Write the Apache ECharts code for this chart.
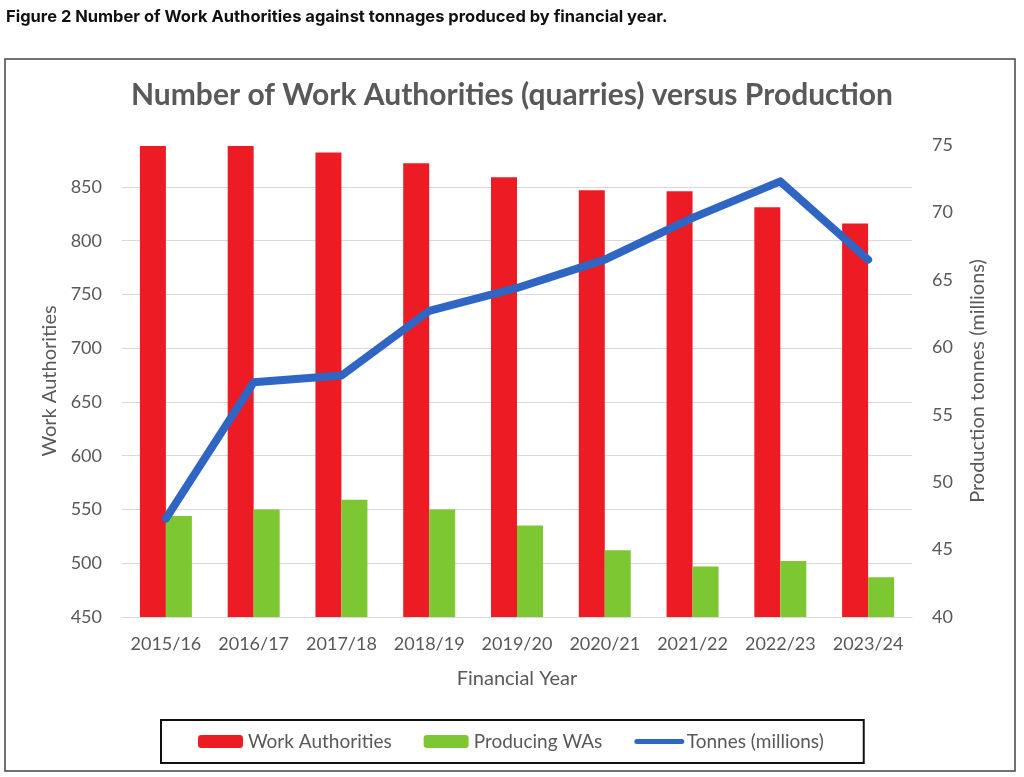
<!DOCTYPE html>
<html>
<head>
<meta charset="utf-8">
<script src="https://cdn.jsdelivr.net/npm/echarts@6/dist/echarts.min.js"></script>
<style>
html,body{margin:0;padding:0;background:#fff;}
#chart{width:1024px;height:777px;}
</style>
</head>
<body>
<div id="chart"></div>
<script>
const categories = ['2015/16','2016/17','2017/18','2018/19','2019/20','2020/21','2021/22','2022/23','2023/24'];
const workAuthorities = [888, 888, 882, 872, 859, 847, 846, 831, 816];
const producingWAs = [544, 550, 559, 550, 535, 512, 497, 502, 487];
const tonnes = [47.3, 57.4, 57.9, 62.7, 64.4, 66.5, 69.6, 72.3, 66.5];

const chart = echarts.init(document.getElementById('chart'), null, {renderer:'canvas'});
const FONT = 'Lato';
const GREY = '#595959';
chart.setOption({
  backgroundColor: '#fff',
  animation: false,
  textStyle: {fontFamily: FONT},
  graphic: [
    {type:'text', left: 6, top: 9, style:{text:'Figure 2 Number of Work Authorities against tonnages produced by financial year.', fontFamily:'Inter', fontWeight:'bold', fontSize:16.5, fill:'#111'}},
    {type:'rect', shape:{x:5, y:59, width:1010, height:712}, style:{fill:'none', stroke:'#444', lineWidth:1.5}, z:-1}
  ],
  title: {
    text: 'Number of Work Authorities (quarries) versus Production',
    left: 'center', top: 80, padding: 0,
    textStyle: {fontFamily: FONT, fontSize: 30, fontWeight: 'bold', color: GREY}
  },
  legend: {
    left: 161, top: 720,
    padding: [12, 40, 12, 37],
    borderColor: '#111', borderWidth: 2,
    itemWidth: 45, itemHeight: 13, itemGap: 32,
    textStyle: {fontFamily: FONT, fontSize: 19, color: GREY},
    data: [
      {name:'Work Authorities'},
      {name:'Producing WAs'},
      {name:'Tonnes (millions)', itemStyle:{opacity:0}, lineStyle:{width:5, cap:'round', color:'#2F66C3'}}
    ]
  },
  grid: {left: 122, right: 112, top: 145, bottom: 160, containLabel: false},
  xAxis: {
    type: 'category', data: categories,
    name: 'Financial Year', nameLocation: 'middle', nameGap: 52,
    nameTextStyle: {fontFamily: FONT, fontSize: 20, color: GREY},
    axisLine: {show: true, lineStyle: {color: '#d9d9d9', width: 1}},
    axisTick: {show: false},
    axisLabel: {fontFamily: FONT, fontSize: 18, color: GREY, margin: 18, interval: 0}
  },
  yAxis: [
    {
      type: 'value', min: 450, max: 889, interval: 50,
      name: 'Work Authorities', nameLocation: 'middle', nameGap: 57, nameRotate: 90,
      nameTextStyle: {fontFamily: FONT, fontSize: 20, color: GREY},
      axisLine: {show: false}, axisTick: {show: false},
      axisLabel: {fontFamily: FONT, fontSize: 18, color: GREY, margin: 20, showMaxLabel: false},
      splitLine: {show: true, showMaxLine: false, lineStyle: {color: '#d9d9d9', width: 1}}
    },
    {
      type: 'value', min: 40, max: 75, interval: 5, position: 'right',
      name: 'Production tonnes (millions)', nameLocation: 'middle', nameGap: 56, nameRotate: 90,
      nameTextStyle: {fontFamily: FONT, fontSize: 20, color: GREY},
      axisLine: {show: false}, axisTick: {show: false},
      axisLabel: {fontFamily: FONT, fontSize: 18, color: GREY, margin: 20},
      splitLine: {show: false}
    }
  ],
  series: [
    {name:'Work Authorities', type:'bar', yAxisIndex:0, data: workAuthorities, barWidth: 26, barGap: '0%',
     itemStyle:{color:'#ED1C24'}},
    {name:'Producing WAs', type:'bar', yAxisIndex:0, data: producingWAs, barWidth: 26, barGap: '0%',
     itemStyle:{color:'#7DC832'}},
    {name:'Tonnes (millions)', type:'line', yAxisIndex:1, data: tonnes, symbol:'none', z: 5,
     itemStyle:{color:'#2F66C3'},
     lineStyle:{color:'#2F66C3', width:8, cap:'round', join:'round'}}
  ]
});
</script>
</body>
</html>
